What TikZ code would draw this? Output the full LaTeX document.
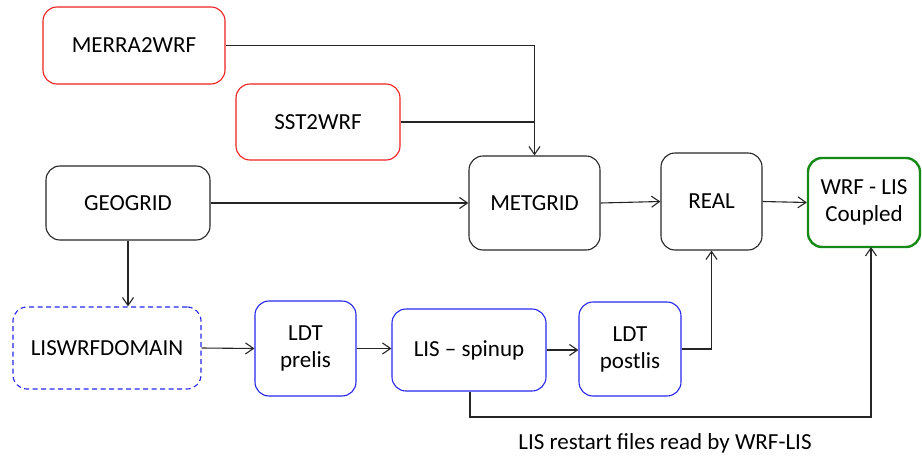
\documentclass[tikz,border=0pt]{standalone}
\usepackage{fontspec}
\setmainfont{Carlito}
\usetikzlibrary{arrows.meta}
\definecolor{cred}{HTML}{F02020}
\definecolor{cblue}{HTML}{2626F0}
\definecolor{cgreen}{HTML}{168A16}
\begin{document}
\begin{tikzpicture}[x=1pt,y=-1pt,
  box/.style={draw, line width=1.1pt, rounded corners=14pt, align=center, inner sep=0pt,
    font=\fontsize{23}{27}\selectfont},
  redbox/.style={box, draw=cred},
  bluebox/.style={box, draw=cblue},
  blackbox/.style={box, draw=black!85},
  greenbox/.style={box, draw=cgreen, line width=2.4pt},
  conn/.style={line width=1.1pt, draw=black!85},
  arr/.style={conn, -{Straight Barb[length=8pt,width=11pt]}},
  lbl/.style={font=\fontsize{23}{27}\selectfont, inner sep=0pt}]
\useasboundingbox (0,0) rectangle (922,458);
\node[redbox, minimum width=182pt, minimum height=77pt] (merra) at (134,45.5) {MERRA2WRF};
\node[redbox, minimum width=164pt, minimum height=76pt] (sst) at (318,122) {SST2WRF};
\node[blackbox, minimum width=164pt, minimum height=74pt] (geo) at (128,203) {GEOGRID};
\node[blackbox, minimum width=131pt, minimum height=94pt] (met) at (534.5,203) {METGRID};
\node[blackbox, minimum width=101pt, minimum height=97pt] (real) at (711.5,201.5) {REAL};
\node[greenbox, minimum width=112pt, minimum height=89pt] (wrf) at (864,202.5) {WRF - LIS\\Coupled};
\node[bluebox, dashed, dash pattern=on 5pt off 3.5pt, minimum width=188pt, minimum height=82pt] (dom) at (107,348) {LISWRFDOMAIN};
\node[bluebox, minimum width=101pt, minimum height=95pt] (pre) at (305.5,348.5) {LDT\\prelis};
\node[bluebox, minimum width=154pt, minimum height=82pt] (spin) at (469,350) {LIS – spinup};
\node[bluebox, minimum width=102pt, minimum height=94pt] (post) at (630,349) {LDT\\postlis};
\node[lbl] (note) at (665,443) {LIS restart files read by WRF-LIS};
\coordinate (corner1) at (470,417);
\coordinate (corner2) at (871,417);
\coordinate (wrfin) at (871,247);
\draw[arr] (merra.east) -| (met.north);
\draw[conn] (sst.east) -| (met.north);
\draw[arr] (geo.east) -- (met.west);
\draw[arr] (met.east) -- (real.west);
\draw[arr] (real.east) -- (wrf.west);
\draw[arr] (geo.south) -- (geo.south |- dom.north);
\draw[arr] (dom.east) -- (pre.west);
\draw[arr] (pre.east) -- (spin.west |- pre.east);
\draw[arr] (spin.east) -- (post.west |- spin.east);
\draw[arr] (post.east) -| (real.south);
\draw[arr] (spin.south -| corner1) -- (corner1) -- (corner2) -- (wrfin);
\end{tikzpicture}
\end{document}
